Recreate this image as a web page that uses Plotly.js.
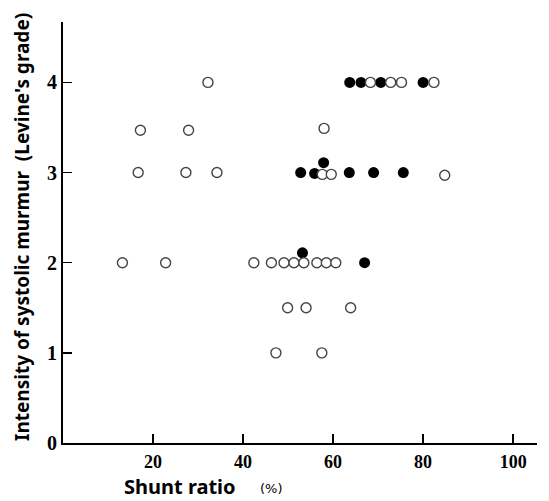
<!DOCTYPE html>
<html>
<head>
<meta charset="utf-8">
<script src="https://cdn.plot.ly/plotly-3.0.1.min.js"></script>
<style>
html,body{margin:0;padding:0;background:#fff;}
#chart{width:549px;height:501px;}
</style>
</head>
<body>
<div id="chart"></div>
<script>
// Open circles (shunt ratio %, murmur grade)
const openX = [32.2, 68.3, 72.8, 75.2, 82.4,
               17.2, 27.9, 58.0,
               16.7, 27.3, 34.2, 57.6, 59.6, 84.8,
               13.2, 22.8, 42.4, 46.3, 49.1, 51.3, 53.5, 56.4, 58.5, 60.6,
               49.9, 54.0, 63.9,
               47.3, 57.5];
const openY = [4, 4, 4, 4, 4,
               3.47, 3.47, 3.49,
               3, 3, 3, 2.98, 2.98, 2.97,
               2, 2, 2, 2, 2, 2, 2, 2, 2, 2,
               1.5, 1.5, 1.5,
               1, 1];
// Filled circles
const filledX = [63.7, 66.2, 70.6, 80.0,
                 52.8, 55.9, 57.9, 63.6, 69.0, 75.6,
                 53.2, 67.0];
const filledY = [4, 4, 4, 4,
                 3, 2.99, 3.11, 3, 3, 3,
                 2.11, 2.0];

const xTicks = [20, 40, 60, 80, 100];
const yTicks = [0, 1, 2, 3, 4];

const sansBold = "'Noto Sans', 'DejaVu Sans', sans-serif";
const serif = "'Liberation Serif', 'Times New Roman', serif";

const traces = [
  {x: filledX, y: filledY, type: 'scatter', mode: 'markers',
   marker: {symbol: 'circle', size: 11, color: '#000', line: {width: 0}}, hoverinfo: 'x+y'},
  {x: openX, y: openY, type: 'scatter', mode: 'markers',
   marker: {symbol: 'circle', size: 10, color: '#fff', line: {width: 1.4, color: '#444'}}, hoverinfo: 'x+y'}
];

const layout = {
  width: 549, height: 501,
  margin: {l: 63, r: 12, t: 22, b: 58},
  paper_bgcolor: '#fff', plot_bgcolor: '#fff',
  showlegend: false,
  xaxis: {range: [0, 105.3], tickvals: xTicks, ticktext: xTicks.map(String),
          showline: true, linecolor: '#000', linewidth: 2, showgrid: false, zeroline: false,
          ticks: 'inside', ticklen: 9, tickwidth: 1.5, tickcolor: '#000',
          tickfont: {family: serif, size: 18, color: '#000', weight: 'bold'},
          ticklabelstandoff: 1},
  yaxis: {range: [0, 4.67], tickvals: yTicks, ticktext: yTicks.map(String),
          showline: true, linecolor: '#000', linewidth: 2, showgrid: false, zeroline: false,
          ticks: 'inside', ticklen: 9, tickwidth: 1.5, tickcolor: '#000',
          tickfont: {family: serif, size: 20, color: '#000', weight: 'bold'}},
  annotations: [
    {text: 'Intensity of systolic murmur  (Levine\'s grade)', xref: 'paper', yref: 'paper',
     x: -56/474, y: (443-227)/421, xanchor: 'left', yanchor: 'middle', textangle: -90, showarrow: false,
     font: {family: sansBold, size: 19, color: '#000', weight: 'bold'}},
    {text: 'Shunt ratio', xref: 'paper', yref: 'paper', x: (180-63)/474, y: -57.8/421,
     xanchor: 'center', yanchor: 'bottom', showarrow: false, borderpad: 0,
     font: {family: sansBold, size: 20, color: '#000', weight: 'bold'}},
    {text: '(%)', xref: 'paper', yref: 'paper', x: (271-63)/474, y: -45.5/421,
     xanchor: 'center', yanchor: 'middle', showarrow: false,
     font: {family: "'DejaVu Sans', sans-serif", size: 13, color: '#000'}}
  ]
};

Plotly.newPlot('chart', traces, layout, {displayModeBar: false, staticPlot: true});
</script>
</body>
</html>
